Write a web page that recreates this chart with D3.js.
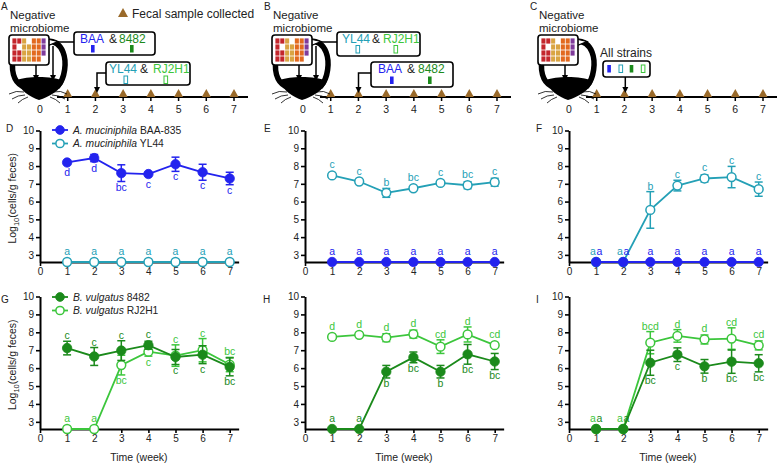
<!DOCTYPE html>
<html><head><meta charset="utf-8">
<script src="https://cdn.jsdelivr.net/npm/d3@7"></script>
<style>
body{margin:0;background:#fff}
svg{display:block}
text{font-family:Arial,"Liberation Sans",sans-serif}
</style>
</head><body>
<svg id="chart" width="778" height="463"></svg>
<script>
// ---------------- DATA ----------------
const weeks = [1, 2, 3, 4, 5, 6, 7];
const xTicks = [0, 1, 2, 3, 4, 5, 6, 7];
const yTicks = [3, 4, 5, 6, 7, 8, 9, 10];
const LOD = 2.6;   // limit of detection (bottom of axis)

// Panel D: A. muciniphila BAA-835 + YL44 given at week 0
const D_BAA      = [8.2, 8.45, 7.6, 7.55, 8.1, 7.65, 7.3];
const D_BAA_err  = [0.05, 0.2, 0.47, 0.05, 0.4, 0.45, 0.35];
const D_BAA_let  = ["d", "d", "bc", "c", "c", "c", "c"];
const D_BAA_pos  = ["d", "d", "d", "d", "d", "d", "d"];
const D_YL44     = [2.6, 2.6, 2.6, 2.6, 2.6, 2.6, 2.6];
const D_YL44_err = [0, 0, 0, 0, 0, 0, 0];
const D_YL44_let = ["a", "a", "a", "a", "a", "a", "a"];
const D_YL44_pos = ["u", "u", "u", "u", "u", "u", "u"];

// Panel E
const E_YL44     = [7.47, 7.13, 6.49, 6.75, 7.05, 6.92, 7.09];
const E_YL44_err = [0.05, 0.08, 0.25, 0.08, 0.1, 0.2, 0.22];
const E_YL44_let = ["c", "c", "b", "bc", "c", "bc", "c"];
const E_YL44_pos = ["u", "u", "u", "u", "u", "u", "u"];
const E_BAA      = [2.6, 2.6, 2.6, 2.6, 2.6, 2.6, 2.6];
const E_BAA_err  = [0, 0, 0, 0, 0, 0, 0];
const E_BAA_let  = ["a", "a", "a", "a", "a", "a", "a"];
const E_BAA_pos  = ["u", "u", "u", "u", "u", "u", "u"];

// Panel F
const F_YL44     = [2.6, 2.6, 5.53, 6.9, 7.3, 7.38, 6.7];
const F_YL44_err = [0, 0, 1.03, 0.3, 0.2, 0.6, 0.4];
const F_YL44_let = ["a", "a", "b", "c", "c", "c", "c"];
const F_YL44_pos = ["u", "u", "u", "u", "u", "u", "u"];
const F_BAA      = [2.6, 2.6, 2.6, 2.6, 2.6, 2.6, 2.6];
const F_BAA_err  = [0, 0, 0, 0, 0, 0, 0];
const F_BAA_let  = ["a", "a", "a", "a", "a", "a", "a"];
const F_BAA_pos  = ["u", "u", "u", "u", "u", "u", "u"];

// Panel G: B. vulgatus 8482 + RJ2H1
const G_8482      = [7.12, 6.65, 6.98, 7.28, 6.62, 6.75, 6.07];
const G_8482_err  = [0.38, 0.5, 0.55, 0.22, 0.42, 0.5, 0.5];
const G_8482_let  = ["c", "c", "c", "c", "c", "c", "bc"];
const G_8482_pos  = ["u", "u", "u", "u", "d", "d", "d"];
const G_RJ2H1     = [2.6, 2.6, 6.17, 6.92, 6.7, 7.0, 6.2];
const G_RJ2H1_err = [0, 0, 0.55, 0.25, 0.6, 0.65, 0.4];
const G_RJ2H1_let = ["a", "a", "bc", "c", "c", "c", "bc"];
const G_RJ2H1_pos = ["u", "u", "d", "d", "u", "u", "u"];

// Panel H
const H_RJ2H1     = [7.74, 7.86, 7.7, 7.9, 7.2, 7.88, 7.28];
const H_RJ2H1_err = [0.05, 0.05, 0.22, 0.22, 0.38, 0.42, 0.1];
const H_RJ2H1_let = ["d", "d", "d", "d", "cd", "d", "cd"];
const H_RJ2H1_pos = ["u", "u", "u", "u", "u", "u", "u"];
const H_8482      = [2.6, 2.6, 5.8, 6.6, 5.8, 6.77, 6.37];
const H_8482_err  = [0, 0, 0.35, 0.3, 0.35, 0.55, 0.45];
const H_8482_let  = ["a", "a", "b", "bc", "b", "bc", "bc"];
const H_8482_pos  = ["u", "u", "d", "d", "d", "d", "d"];

// Panel I
const I_RJ2H1     = [2.6, 2.6, 7.42, 7.8, 7.6, 7.65, 7.27];
const I_RJ2H1_err = [0, 0, 0.62, 0.35, 0.25, 0.6, 0.25];
const I_RJ2H1_let = ["a", "a", "bcd", "d", "d", "cd", "cd"];
const I_RJ2H1_pos = ["u", "u", "u", "u", "u", "u", "u"];
const I_8482      = [2.6, 2.6, 6.3, 6.75, 6.1, 6.36, 6.27];
const I_8482_err  = [0, 0, 0.7, 0.38, 0.38, 0.65, 0.48];
const I_8482_let  = ["a", "a", "bc", "c", "b", "bc", "bc"];
const I_8482_pos  = ["u", "u", "d", "d", "d", "d", "d"];

// ---------------- STYLE ----------------
const COL = {blue: "#2323ee", teal: "#24a0b6", dk: "#1b8a1b", lt: "#3cc63c", brown: "#9a6a2a"};
const svg = d3.select("#chart");

// ---------------- CHART PANELS ----------------
const colX = [40, 305, 569];
const rowY = [{base: 262, top: 130.5}, {base: 429, top: 296.5}];
const XMAX = 7.33;
const PX_PER_WEEK = 27.1;

function S(vals, errs, lets, pos, color, filled) { return {vals, errs, lets, pos, color, filled}; }

const panels = [
  {c: 0, r: 0, label: "D", lx: 6, ly: 131.5, series: [S(D_YL44, D_YL44_err, D_YL44_let, D_YL44_pos, COL.teal, false), S(D_BAA, D_BAA_err, D_BAA_let, D_BAA_pos, COL.blue, true)]},
  {c: 1, r: 0, label: "E", lx: 264, ly: 131.5, series: [S(E_YL44, E_YL44_err, E_YL44_let, E_YL44_pos, COL.teal, false), S(E_BAA, E_BAA_err, E_BAA_let, E_BAA_pos, COL.blue, true)]},
  {c: 2, r: 0, label: "F", lx: 536, ly: 131.5, series: [S(F_YL44, F_YL44_err, F_YL44_let, F_YL44_pos, COL.teal, false), S(F_BAA, F_BAA_err, F_BAA_let, F_BAA_pos, COL.blue, true)]},
  {c: 0, r: 1, label: "G", lx: 1, ly: 303, series: [S(G_RJ2H1, G_RJ2H1_err, G_RJ2H1_let, G_RJ2H1_pos, COL.lt, false), S(G_8482, G_8482_err, G_8482_let, G_8482_pos, COL.dk, true)]},
  {c: 1, r: 1, label: "H", lx: 263, ly: 303, series: [S(H_RJ2H1, H_RJ2H1_err, H_RJ2H1_let, H_RJ2H1_pos, COL.lt, false), S(H_8482, H_8482_err, H_8482_let, H_8482_pos, COL.dk, true)]},
  {c: 2, r: 1, label: "I", lx: 536, ly: 303, series: [S(I_RJ2H1, I_RJ2H1_err, I_RJ2H1_let, I_RJ2H1_pos, COL.lt, false), S(I_8482, I_8482_err, I_8482_let, I_8482_pos, COL.dk, true)]}
];

panels.forEach(p => {
  const x0 = colX[p.c];
  const x = d3.scaleLinear().domain([0, XMAX]).range([x0, x0 + PX_PER_WEEK * XMAX]);
  const y = d3.scaleLinear().domain([LOD, 10]).range([rowY[p.r].base, rowY[p.r].top]);
  const g = svg.append("g");

  svg.append("text").attr("x", p.lx).attr("y", p.ly).attr("font-size", 10).attr("fill", "#222").text(p.label);

  const ya = g.append("g").attr("transform", `translate(${x0},0)`)
    .call(d3.axisLeft(y).tickValues(yTicks).tickSize(4).tickSizeOuter(0).tickPadding(2));
  const xa = g.append("g").attr("transform", `translate(0,${y(LOD)})`)
    .call(d3.axisBottom(x).tickValues(xTicks).tickSize(4).tickSizeOuter(0).tickPadding(2));
  [ya, xa].forEach(a => {
    a.select(".domain").attr("stroke", "#000").attr("stroke-width", 2);
    a.selectAll(".tick line").attr("stroke", "#000").attr("stroke-width", 1.6);
    a.selectAll(".tick text").attr("font-size", 10).attr("fill", "#222")
      .attr("font-family", "Arial, 'Liberation Sans', sans-serif");
  });

  if (p.c === 0) {
    const t = svg.append("text").attr("transform", `translate(16,${(rowY[p.r].base + rowY[p.r].top) / 2 + 2}) rotate(-90)`)
      .attr("text-anchor", "middle").attr("font-size", 10.5).attr("fill", "#222");
    t.append("tspan").text("Log");
    t.append("tspan").attr("font-size", 7.5).attr("dy", 3).text("10");
    t.append("tspan").attr("dy", -3).text("(cells/g feces)");
  }
  if (p.r === 1) {
    svg.append("text").attr("x", x0 + PX_PER_WEEK * 3.65).attr("y", 461).attr("text-anchor", "middle")
      .attr("font-size", 10.5).attr("fill", "#222").text("Time (week)");
  }

  const [sOpen, sFill] = p.series;
  const bothLOD = weeks.map((w, i) => sOpen.vals[i] === LOD && sFill.vals[i] === LOD);

  p.series.forEach(s => {
    const pts = weeks.map((w, i) => ({w, v: s.vals[i], e: s.errs[i], l: s.lets[i], pos: s.pos[i], i}));
    g.append("path").datum(pts)
      .attr("d", d3.line().x(d => x(d.w)).y(d => y(d.v)))
      .attr("fill", "none").attr("stroke", s.color).attr("stroke-width", 1.8);
    const eb = g.append("g").attr("stroke", s.color).attr("stroke-width", 1.5);
    pts.filter(d => d.e > 0.12).forEach(d => {
      const cx = x(d.w);
      eb.append("line").attr("x1", cx).attr("x2", cx).attr("y1", y(d.v - d.e)).attr("y2", y(d.v + d.e));
      eb.append("line").attr("x1", cx - 4).attr("x2", cx + 4).attr("y1", y(d.v - d.e)).attr("y2", y(d.v - d.e));
      eb.append("line").attr("x1", cx - 4).attr("x2", cx + 4).attr("y1", y(d.v + d.e)).attr("y2", y(d.v + d.e));
    });
    g.append("g").selectAll("circle").data(pts).join("circle")
      .attr("cx", d => x(d.w)).attr("cy", d => y(d.v))
      .attr("r", s.filled ? 4.7 : 4.4)
      .attr("fill", s.filled ? s.color : "#fff")
      .attr("stroke", s.color).attr("stroke-width", s.filled ? 0.8 : 1.5);
    g.append("g").selectAll("text").data(pts).join("text")
      .attr("x", d => x(d.w) + (bothLOD[d.i] ? (s.filled ? 3.3 : -3.3) : 0))
      .attr("y", d => d.pos === "u"
        ? Math.min(y(d.v + d.e), y(d.v) - 5) - 2
        : Math.max(y(d.v - d.e), y(d.v) + 5) + 9)
      .attr("text-anchor", "middle").attr("font-size", 10.5).attr("fill", s.color)
      .text(d => d.l);
  });
});

// ---------------- LEGENDS ----------------
const legends = [
  {y0: 130, items: [{c: COL.blue, f: true, it: "A. muciniphila", rest: " BAA-835"}, {c: COL.teal, f: false, it: "A. muciniphila", rest: " YL44"}]},
  {y0: 297, items: [{c: COL.dk, f: true, it: "B. vulgatus", rest: " 8482"}, {c: COL.lt, f: false, it: "B. vulgatus", rest: " RJ2H1"}]}
];
legends.forEach(L => {
  L.items.forEach((it, k) => {
    const yy = L.y0 + k * 13.5;
    svg.append("line").attr("x1", 52).attr("x2", 68).attr("y1", yy).attr("y2", yy).attr("stroke", it.c).attr("stroke-width", 1.8);
    svg.append("circle").attr("cx", 60).attr("cy", yy).attr("r", it.f ? 4.4 : 4.1)
      .attr("fill", it.f ? it.c : "#fff").attr("stroke", it.c).attr("stroke-width", it.f ? 0.8 : 1.5);
    const t = svg.append("text").attr("x", 73).attr("y", yy + 3.7).attr("font-size", 10.3).attr("fill", "#222");
    t.append("tspan").attr("font-style", "italic").text(it.it);
    t.append("tspan").text(it.rest);
  });
});

// ---------------- SCHEMATICS ----------------
const gridRows = ["RRGWOOP", "RWGGOOP", "RRGGOOP", "RRGGOOW"];
const gridCol = {R: "#c4262c", G: "#d9a443", O: "#e2691f", P: "#7f3b9b", W: "#ffffff"};

function arrowDown(g, x, yEnd) {
  g.append("path").attr("d", `M${x - 3},${yEnd - 6} L${x + 3},${yEnd - 6} L${x},${yEnd} Z`).attr("fill", "#000");
}

function mouse(g, twoArrows) {
  g.append("path").attr("d", "M14,55 C10,70 14,82 22,86 L58,86 C65,78 67,62 63,52 C60,44 55,41 47,41 Z")
    .attr("fill", "#fff").attr("stroke", "#000").attr("stroke-width", 5.5);
  g.append("path").attr("d", "M17,80 C28,76 52,76 64,81 C61,90 49,97 39,100 C30,97 19,90 17,80 Z").attr("fill", "#000");
  const wh = ["M24,92 Q16,90 9,94", "M25,95 Q18,95 12,99", "M28,97 Q22,99 18,103",
              "M53,92 Q61,90 67,94", "M52,95 Q59,95 65,99", "M50,97 Q56,99 60,103"];
  wh.forEach(d => g.append("path").attr("d", d).attr("fill", "none").attr("stroke", "#000").attr("stroke-width", 0.8));
  g.append("line").attr("x1", 36).attr("x2", 36).attr("y1", 64).attr("y2", 76).attr("stroke", "#000").attr("stroke-width", 1.5);
  arrowDown(g, 36, 81);
  if (twoArrows) {
    g.append("line").attr("x1", 53).attr("x2", 53).attr("y1", 46).attr("y2", 76).attr("stroke", "#000").attr("stroke-width", 1.5);
    arrowDown(g, 53, 81);
  }
  g.append("path").attr("d", "M47,39 L58,41.5 L47,46 Z").attr("fill", "#fff").attr("stroke", "#000").attr("stroke-width", 1.2);
  g.append("rect").attr("x", 9).attr("y", 35).attr("width", 40).attr("height", 30).attr("rx", 3)
    .attr("fill", "#fff").attr("stroke", "#000").attr("stroke-width", 1.6);
  const cw = 34 / 7, ch = 24 / 4;
  gridRows.forEach((row, ri) => row.split("").forEach((k, ci) => {
    g.append("rect").attr("x", 12 + ci * cw + 0.4).attr("y", 38 + ri * ch + 0.4)
      .attr("width", cw - 0.8).attr("height", ch - 0.8).attr("fill", gridCol[k]);
  }));
  g.append("text").attr("x", 10).attr("y", 18.5).attr("font-size", 11.5).attr("fill", "#222").text("Negative");
  g.append("text").attr("x", 10).attr("y", 32).attr("font-size", 11.5).attr("fill", "#222").text("microbiome");
}

function timeline(g) {
  const tx = d3.scaleLinear().domain([0, 7]).range([40, 234]);
  g.append("line").attr("x1", 57).attr("x2", 248).attr("y1", 97).attr("y2", 97).attr("stroke", "#000").attr("stroke-width", 1.8);
  weeks.forEach(w => {
    g.append("line").attr("x1", tx(w)).attr("x2", tx(w)).attr("y1", 97).attr("y2", 101).attr("stroke", "#000").attr("stroke-width", 1.5);
    g.append("path").attr("d", `M${tx(w) - 4.5},97 L${tx(w) + 4.5},97 L${tx(w)},89 Z`).attr("fill", COL.brown);
  });
  xTicks.forEach(w => g.append("text").attr("x", tx(w)).attr("y", 113).attr("text-anchor", "middle")
    .attr("font-size", 10.5).attr("fill", "#222").text(w));
}

function callout(g, box, words, chips, base, chipY) {
  g.append("rect").attr("x", box[0]).attr("y", box[1]).attr("width", box[2]).attr("height", box[3]).attr("rx", 3)
    .attr("fill", "#fff").attr("stroke", "#000").attr("stroke-width", 1.6);
  words.forEach(w => g.append("text").attr("x", w.x).attr("y", base).attr("font-size", 12).attr("fill", w.c).text(w.t));
  chips.forEach(c => g.append("rect").attr("x", c.x).attr("y", chipY).attr("width", 3.6).attr("height", 7.5)
    .attr("fill", c.f ? c.c : "#fff").attr("stroke", c.c).attr("stroke-width", c.f ? 0 : 1));
}

const schem = [
  {dx: 0, label: "A", two: true},
  {dx: 263, label: "B", two: true},
  {dx: 529, label: "C", two: false}
];
schem.forEach(s => {
  const g = svg.append("g").attr("transform", `translate(${s.dx},0)`);
  g.append("text").attr("x", 1).attr("y", 9.5).attr("font-size", 10).attr("fill", "#222").text(s.label);
  timeline(g);
  mouse(g, s.two);
  if (s.label === "A") {
    g.append("line").attr("x1", 58).attr("x2", 74).attr("y1", 42).attr("y2", 42).attr("stroke", "#000").attr("stroke-width", 1.5);
    callout(g, [74, 32, 81, 23],
      [{t: "BAA", x: 80, c: COL.blue}, {t: "&", x: 109, c: "#222"}, {t: "8482", x: 119, c: COL.dk}],
      [{x: 91, c: COL.blue, f: true}, {x: 130, c: COL.dk, f: true}], 43, 45);
    g.append("path").attr("d", "M106,73 H97 V88").attr("fill", "none").attr("stroke", "#000").attr("stroke-width", 1.5);
    arrowDown(g, 97, 93);
    callout(g, [106, 62, 84, 23],
      [{t: "YL44", x: 109, c: COL.teal}, {t: "&", x: 140, c: "#222"}, {t: "RJ2H1", x: 153, c: COL.lt}],
      [{x: 124, c: COL.teal, f: false}, {x: 164, c: COL.lt, f: false}], 73, 76);
    g.append("path").attr("d", "M123,8 L128,17 L118,17 Z").attr("fill", COL.brown);
    g.append("text").attr("x", 132).attr("y", 18).attr("font-size", 12).attr("fill", "#222").text("Fecal sample collected");
  } else if (s.label === "B") {
    g.append("line").attr("x1", 58).attr("x2", 74).attr("y1", 42).attr("y2", 42).attr("stroke", "#000").attr("stroke-width", 1.5);
    callout(g, [74, 32, 83, 24],
      [{t: "YL44", x: 79, c: COL.teal}, {t: "&", x: 109, c: "#222"}, {t: "RJ2H1", x: 120, c: COL.lt}],
      [{x: 93, c: COL.teal, f: false}, {x: 131, c: COL.lt, f: false}], 43, 45.5);
    g.append("path").attr("d", "M108,73 H95.5 V88").attr("fill", "none").attr("stroke", "#000").attr("stroke-width", 1.5);
    arrowDown(g, 95.5, 93);
    callout(g, [108, 62, 82, 25],
      [{t: "BAA", x: 115, c: COL.blue}, {t: "&", x: 144, c: "#222"}, {t: "8482", x: 155, c: COL.dk}],
      [{x: 127, c: COL.blue, f: true}, {x: 165, c: COL.dk, f: true}], 73, 76.5);
  } else {
    g.append("text").attr("x", 71).attr("y", 57).attr("font-size", 12).attr("fill", "#222").text("All strains");
    callout(g, [74, 61, 47, 16], [],
      [{x: 78.3, c: COL.blue, f: true}, {x: 90, c: COL.teal, f: false}, {x: 100.7, c: COL.dk, f: true}, {x: 112.3, c: COL.lt, f: false}], 0, 65);
    g.append("line").attr("x1", 96.3).attr("x2", 96.3).attr("y1", 77).attr("y2", 88).attr("stroke", "#000").attr("stroke-width", 1.5);
    arrowDown(g, 96.3, 93);
  }
});
</script>
</body></html>
